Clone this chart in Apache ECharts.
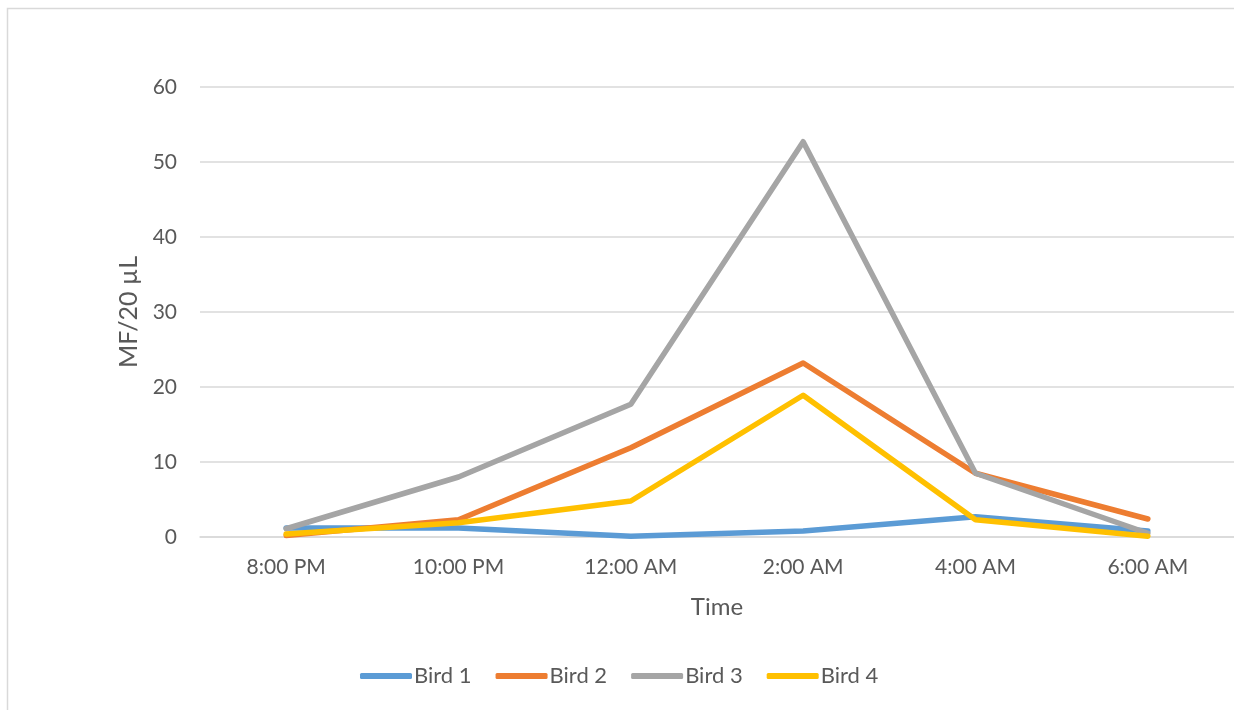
<!DOCTYPE html>
<html>
<head>
<meta charset="utf-8">
<script src="https://cdn.jsdelivr.net/npm/echarts@6/dist/echarts.min.js"></script>
<style>
  html, body { margin: 0; padding: 0; background: #fff; }
  #chart { width: 1234px; height: 710px; }
</style>
</head>
<body>
<div id="chart"></div>
<script>
// Microfilariae counts per 20 µL of blood, sampled every two hours overnight
const times = ['8:00 PM', '10:00 PM', '12:00 AM', '2:00 AM', '4:00 AM', '6:00 AM'];
const bird1 = [1.2, 1.2, 0.1, 0.8, 2.7, 0.8];
const bird2 = [0.2, 2.3, 11.9, 23.2, 8.5, 2.4];
const bird3 = [1.1, 8.0, 17.7, 52.7, 8.5, 0.5];
const bird4 = [0.4, 1.9, 4.8, 18.9, 2.3, 0.1];
const yTicks = [0, 10, 20, 30, 40, 50, 60];

const FONT = 'Lato, "Open Sans", sans-serif';
const TEXT = '#595959';

function lineSeries(name, data, color) {
  return {
    name: name,
    type: 'line',
    data: data,
    symbol: 'none',
    lineStyle: { width: 5.5, color: color, cap: 'round', join: 'round' },
    itemStyle: { color: color },
    emphasis: { disabled: true }
  };
}

const chart = echarts.init(document.getElementById('chart'), null, { renderer: 'canvas' });
chart.setOption({
  animation: false,
  textStyle: { fontFamily: FONT },
  graphic: [{
    type: 'rect',
    shape: { x: 7.5, y: 8.5, width: 1300, height: 800 },
    style: { fill: 'none', stroke: '#d9d9d9', lineWidth: 1.5 },
    silent: true,
    z: -1
  }],
  grid: { left: 200, right: -7, top: 87, bottom: 173 },
  legend: {
    top: 660,
    left: 355,
    itemWidth: 52,
    itemHeight: 6,
    itemGap: 24,
    icon: 'roundRect',
    textStyle: { fontFamily: FONT, fontSize: 22, color: TEXT, padding: [0, 0, 0, -3] },
    data: ['Bird 1', 'Bird 2', 'Bird 3', 'Bird 4']
  },
  xAxis: {
    type: 'category',
    data: times,
    boundaryGap: true,
    name: 'Time',
    nameLocation: 'middle',
    nameGap: 58,
    nameTextStyle: { fontFamily: FONT, fontSize: 24, color: TEXT },
    axisLine: { lineStyle: { color: '#d9d9d9', width: 1.5 } },
    axisTick: { show: false },
    axisLabel: { fontFamily: FONT, fontSize: 21, color: TEXT, margin: 20 }
  },
  yAxis: {
    type: 'value',
    min: yTicks[0],
    max: yTicks[yTicks.length - 1],
    interval: 10,
    name: 'MF/20 µL',
    nameLocation: 'middle',
    nameGap: 58,
    nameTextStyle: { fontFamily: FONT, fontSize: 25, color: TEXT },
    axisLine: { show: false },
    axisTick: { show: false },
    axisLabel: { fontFamily: FONT, fontSize: 21, color: TEXT, margin: 23 },
    splitLine: { lineStyle: { color: '#d9d9d9', width: 1.5 } }
  },
  series: [
    lineSeries('Bird 1', bird1, '#5B9BD5'),
    lineSeries('Bird 2', bird2, '#ED7D31'),
    lineSeries('Bird 3', bird3, '#A5A5A5'),
    lineSeries('Bird 4', bird4, '#FFC000')
  ]
});
</script>
</body>
</html>
